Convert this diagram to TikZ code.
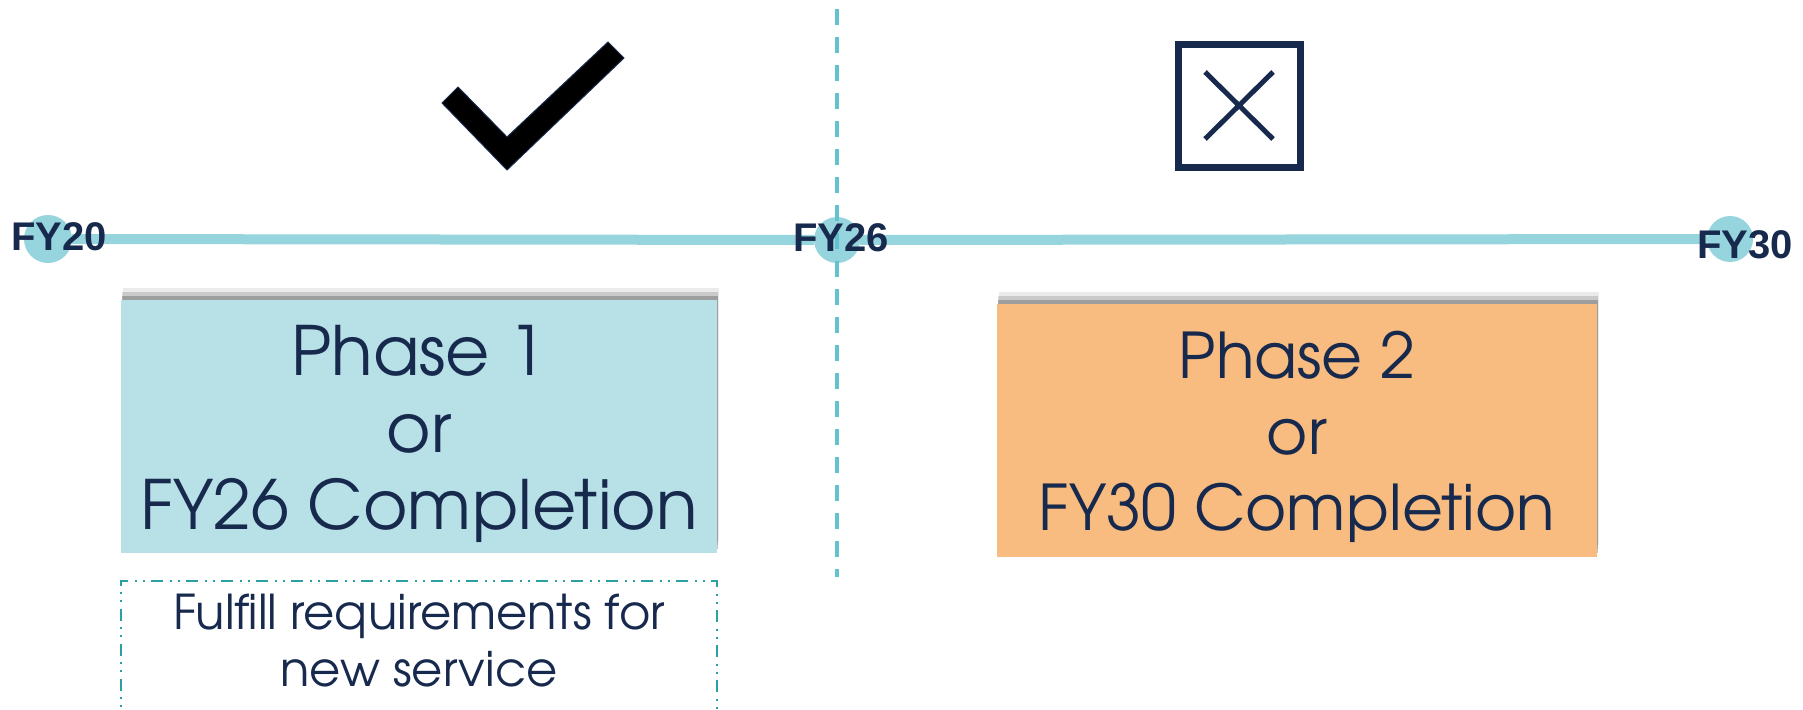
\documentclass[tikz,border=0pt]{standalone}
\usepackage{fontspec}
\setmainfont{TeX Gyre Adventor}
\newfontfamily\yearfont{Liberation Sans}
\usetikzlibrary{positioning,shadows}

\definecolor{navy}{RGB}{23,42,77}
\definecolor{lineblue}{RGB}{150,212,222}
\definecolor{divteal}{RGB}{100,194,206}
\definecolor{phaseblue}{RGB}{183,225,231}
\definecolor{phaseorange}{RGB}{248,187,128}
\definecolor{boxteal}{RGB}{42,160,165}

\tikzset{
  yeardot/.style={circle,fill=lineblue,minimum size=48pt,inner sep=0pt},
  yearlabel/.style={inner sep=0pt,text=navy,font=\yearfont\bfseries\fontsize{40}{40}\selectfont},
  timeline/.style={lineblue,line width=10pt},
  divider/.style={divteal,line width=4pt,dash pattern=on 16pt off 12pt},
  phasebox/.style={minimum height=253pt,inner sep=0pt,align=center,text=navy,
    drop shadow={shadow xshift=2pt,shadow yshift=12pt,opacity=.08,fill=black},
    drop shadow={shadow xshift=1pt,shadow yshift=8pt,opacity=.14,fill=black},
    drop shadow={shadow xshift=1pt,shadow yshift=4pt,opacity=.22,fill=black}},
  reqbox/.style={draw=boxteal,line width=2pt,
    dash pattern=on 12pt off 6pt on 2pt off 6pt on 2pt off 7pt,
    minimum width=596pt,minimum height=180pt,inner sep=0pt},
  crossline/.style={navy,line width=5pt}
}

\begin{document}
\begin{tikzpicture}[x=1pt,y=-1pt]
\useasboundingbox (0,0) rectangle (1803,709);

% timeline
\node[yeardot] (dot20) at (48,239) {};
\node[yeardot,minimum size=46pt] (dot26) at (837,240) {};
\node[yeardot,minimum size=46pt] (dot30) at (1730,239) {};
\draw[timeline] (dot20) -- (dot26);
\draw[timeline] (dot26) -- (dot30);
\coordinate (divtop) at (837,9);
\coordinate (divbot) at (837,577);
\draw[divider] (divtop) -- (divbot);
\node[yearlabel] (fy20) at (59,237) {FY20};
\node[yearlabel] (fy26) at (841,238) {FY26};
\node[yearlabel] (fy30) at (1745,245) {FY30};

% marks
\filldraw[fill=black,draw=navy,line width=1pt] (442,103) -- (458,87) -- (507,137)
  -- (608,42) -- (624,58) -- (507,170) -- cycle;
\node[draw=navy,line width=7pt,minimum size=122pt,inner sep=0pt] (nobox) at (1239,106) {};
\draw[crossline] (1205,72) -- (1273,139) (1273,72) -- (1205,139);

% phases
\node[phasebox,fill=phaseblue,minimum width=596pt,font=\fontsize{68}{77}\selectfont]
  (phase1) at (419,426) {\rule{0pt}{66pt}Phase 1\\or\\FY26 Completion};
\node[phasebox,fill=phaseorange,minimum width=600pt,font=\fontsize{63}{76}\selectfont]
  (phase2) at (1297,430) {\rule{0pt}{62pt}Phase 2\\or\\FY30 Completion};

\node[reqbox] (req) at (419,671) {};
\node[below=10pt of req.north,align=center,text=navy,font=\fontsize{48}{57}\selectfont]
  (reqtext) {Fulfill requirements for\\new service};
\end{tikzpicture}
\end{document}
